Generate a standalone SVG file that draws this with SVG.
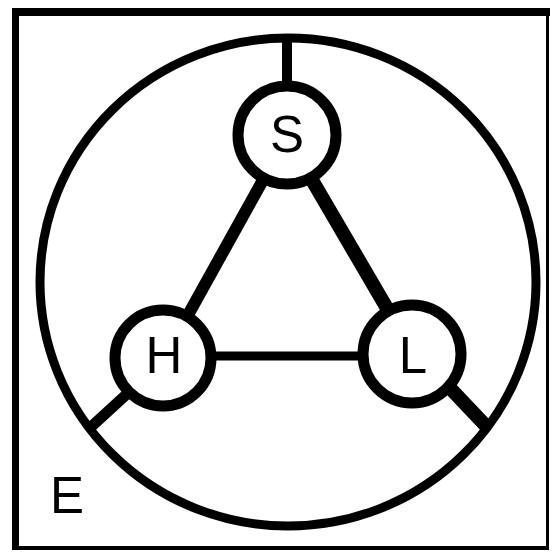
<svg xmlns="http://www.w3.org/2000/svg" width="554" height="553" viewBox="0 0 554 553">
<style>
.ring{fill:#fff;stroke:#000;stroke-width:11}
.lbl{font-family:"Liberation Sans",Arial,sans-serif;font-size:51px;fill:#000;text-anchor:middle}
.c{stroke:#000;fill:none}
</style>
<rect width="554" height="553" fill="#fff"/>
<g id="frame" fill="#000">
<rect x="12" y="8" width="538" height="8"/>
<rect x="12" y="8" width="7" height="542"/>
<rect x="546" y="8" width="3" height="542"/>
<rect x="12" y="546" width="537" height="4"/>
</g>
<g id="E">
<ellipse cx="288" cy="282" rx="248" ry="244" fill="none" stroke="#000" stroke-width="9"/>
<text class="lbl" x="67" y="513">E</text>
</g>
<g id="connectors">
<line class="c" x1="287" y1="38" x2="287" y2="84" stroke-width="10"/>
<line class="c" x1="263" y1="180" x2="188" y2="315" stroke-width="12"/>
<line class="c" x1="312" y1="180" x2="388" y2="310" stroke-width="14"/>
<line class="c" x1="212" y1="356" x2="362" y2="356" stroke-width="9"/>
<line class="c" x1="128" y1="393" x2="92" y2="426" stroke-width="11"/>
<line class="c" x1="450" y1="388" x2="486" y2="426" stroke-width="14"/>
</g>
<g id="S">
<circle class="ring" cx="287" cy="135" r="49"/>
<text class="lbl" x="287" y="152">S</text>
</g>
<g id="H">
<circle class="ring" cx="163" cy="358" r="48"/>
<text class="lbl" x="164" y="373">H</text>
</g>
<g id="L">
<circle class="ring" cx="412" cy="354" r="49"/>
<text class="lbl" x="413" y="373">L</text>
</g>
</svg>
